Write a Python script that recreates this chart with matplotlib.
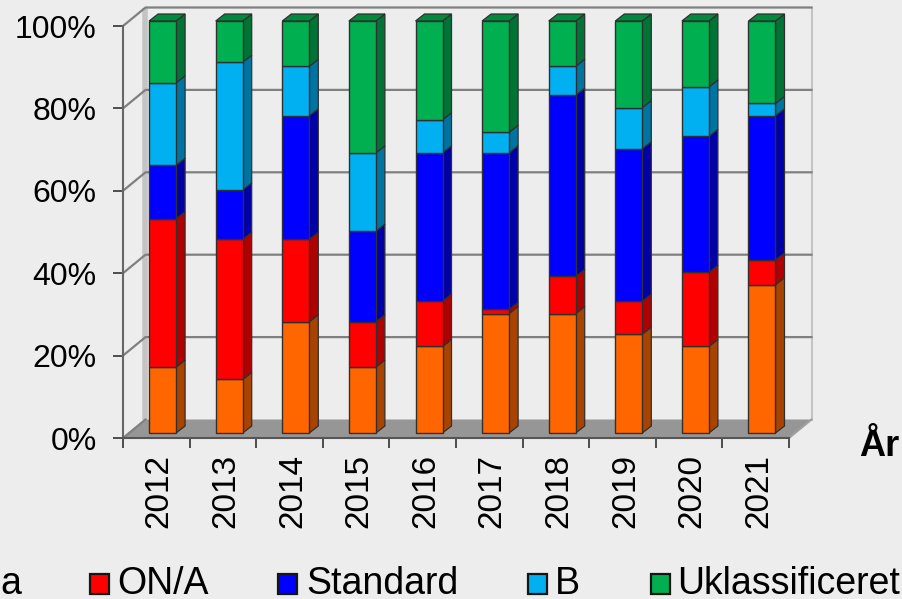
import matplotlib
matplotlib.use('Agg')
import matplotlib.pyplot as plt
from matplotlib.patches import Polygon, Rectangle

plt.rcParams['font.family'] = ['Liberation Sans', 'DejaVu Sans']

years = ['2012', '2013', '2014', '2015', '2016', '2017', '2018', '2019', '2020', '2021']
orange = [16, 13, 27, 16, 21, 29, 29, 24, 21, 36]
red = [36, 34, 20, 11, 11, 1, 9, 8, 18, 6]
blue = [13, 12, 30, 22, 36, 38, 44, 37, 33, 35]
light_blue = [20, 31, 12, 19, 8, 5, 7, 10, 12, 3]
green = [15, 10, 11, 32, 24, 27, 11, 21, 16, 20]

series = [orange, red, blue, light_blue, green]
face_colors = ['#FF6600', '#FF0000', '#0000FF', '#00B0F0', '#00B050']
side_colors = ['#A84400', '#B00000', '#0000A8', '#0074A0', '#007434']
top_color = '#008A3C'
legend_labels = ['ON/A', 'Standard', 'B', 'Uklassificeret']

W, H = 903, 599
BG = '#EDEDED'
fig = plt.figure(figsize=(W / 100, H / 100), dpi=100, facecolor=BG)
# front plane of the fake 3d box: x 123-789 px, y 438-26 px
ax = fig.add_axes([123 / W, 1 - 438 / H, 666 / W, 412 / H])
ax.set_xlim(0, 10)
ax.set_ylim(0, 100)
ax.patch.set_visible(False)
for s in ax.spines.values():
    s.set_visible(False)

px_x = 10 / 666
px_y = 100 / 412
back_dx = 22.5 * px_x
back_dy = 18.5 * px_y


def poly(points, **kw):
    ax.add_patch(Polygon(points, closed=True, clip_on=False, **kw))


# floor and walls
poly([(0, 0), (10, 0), (10 + back_dx, back_dy), (back_dx, back_dy)],
     facecolor='#969696', edgecolor='none', zorder=1)
ax.plot([back_dx, back_dx], [back_dy, 100 + back_dy], color='#C4C4C4', lw=4,
        clip_on=False, zorder=1.5, solid_capstyle='butt')
ax.plot([10 + back_dx] * 2, [back_dy, 100 + back_dy], color='#C4C4C4', lw=1.5,
        clip_on=False, zorder=1.5)
for v in [20, 40, 60, 80, 100]:
    ax.plot([0, back_dx, 10 + back_dx], [v, v + back_dy, v + back_dy],
            color='#808080', lw=1.6, clip_on=False, zorder=2)
ax.plot([0, back_dx], [0, back_dy], color='#808080', lw=1.6, clip_on=False, zorder=2)
ax.plot([10, 10 + back_dx], [0, back_dy], color='#A0A0A0', lw=1.5, clip_on=False, zorder=2)

# stacked bars with hand made depth
bar_w = 27 * px_x
shift_x = 6.3 * px_x
base_y = 5 * px_y
side_dx = 9 * px_x
side_dy = 7 * px_y

for i, year in enumerate(years):
    x0 = i + 0.5 + shift_x - bar_w / 2
    bottom = 0
    for vals, fc, sc in zip(series, face_colors, side_colors):
        v = vals[i]
        y0 = bottom + base_y
        ax.bar(x0, v, width=bar_w, bottom=y0, align='edge', color=fc,
               edgecolor='#303030', linewidth=1.0, clip_on=False, zorder=4)
        x1 = x0 + bar_w
        poly([(x1, y0), (x1 + side_dx, y0 + side_dy),
              (x1 + side_dx, y0 + v + side_dy), (x1, y0 + v)],
             facecolor=sc, edgecolor='#303030', linewidth=0.9, zorder=3.5)
        bottom += v
    y_top = bottom + base_y
    poly([(x0, y_top), (x0 + bar_w, y_top),
          (x0 + bar_w + side_dx, y_top + side_dy), (x0 + side_dx, y_top + side_dy)],
         facecolor=top_color, edgecolor='#303030', linewidth=0.9, zorder=3.5)

# front axes
ax.plot([0, 0], [0, 100], color='#666666', lw=1.5, clip_on=False, zorder=5)
ax.plot([0, 10], [0, 0], color='#555555', lw=1.5, clip_on=False, zorder=5)
ax.set_yticks([0, 20, 40, 60, 80, 100])
ax.set_yticklabels(['0%', '20%', '40%', '60%', '80%', '100%'], fontsize=23)
ax.set_xticks(range(11))
ax.set_xticklabels([])
ax.tick_params(axis='both', length=7.5, width=1.1, color='#222222')
ax.tick_params(axis='y', pad=11.5)
for i, year in enumerate(years):
    ax.annotate(year, (i + 0.5, 0), xytext=(3, -16), textcoords='offset pixels',
                rotation=90, ha='center', va='top', fontsize=24, annotation_clip=False)

fig.text(879 / W, 1 - 446 / H, 'År', fontsize=26, fontweight='bold',
         ha='center', va='center')

# legend, first entry is cut by the image edge
legend_y = 580
fig.text(0 / W, 1 - legend_y / H, 'a', fontsize=27, ha='left', va='center_baseline')
marker_x = [90, 278, 528, 651]
text_x = [117, 306, 555, 677]
for mx, tx, lab, fc in zip(marker_x, text_x, legend_labels, face_colors[1:]):
    fig.add_artist(Rectangle((mx / W, 1 - 593.5 / H), 19 / W, 19.5 / H, transform=fig.transFigure,
                             facecolor=fc, edgecolor='#151515', linewidth=1.6))
    fig.text(tx / W, 1 - legend_y / H, lab, fontsize=27, ha='left', va='center_baseline')

fig.savefig('out.png', dpi=100, facecolor=BG)
plt.close(fig)
